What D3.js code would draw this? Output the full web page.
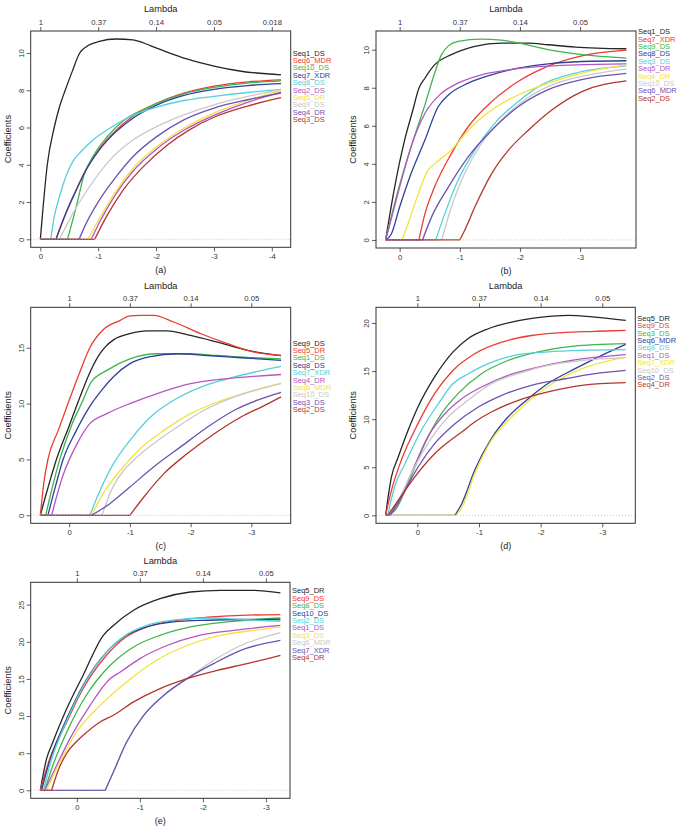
<!DOCTYPE html>
<html>
<head>
<meta charset="utf-8">
<script src="https://d3js.org/d3.v7.min.js"></script>
<style>
  body { margin: 0; background: #fff; }
  svg text { font-family: "Liberation Sans", Arial, sans-serif; }
</style>
</head>
<body>
<svg id="chart" width="684" height="831"></svg>
<script>
// colours used by every panel, in legend order
var palette = ["#262626", "#ec3b30", "#3db54b", "#2e4099", "#55d0d8", "#b455c4", "#f3e23c", "#c9c9c9", "#6b52b3", "#b3352c"];

// log(lambda) positions of the ticks and the lambda values printed on top
var logLambdaTicks = [0, -1, -2, -3, -4];
var lambdaTickLabels = ["1", "0.37", "0.14", "0.05", "0.018"];

// ---- panel (a)
var aNames = ["Seq1_DS", "Seq6_MDR", "Seq10_DS", "Seq7_XDR", "Seq8_DS", "Seq2_DS", "Seq5_DR", "Seq9_DS", "Seq4_DR", "Seq3_DS"];
var aYTicks = [0, 2, 4, 6, 8, 10];
var aPaths = [
  [[0,0],[-0.05,1.8],[-0.12,4.0],[-0.24,6.0],[-0.33,7.1],[-0.43,8.0],[-0.55,9.0],[-0.68,10.0],[-0.8,10.35],[-1.02,10.62],[-1.31,10.75],[-1.6,10.7],[-1.9,10.4],[-2.19,10.05],[-2.53,9.68],[-3.0,9.3],[-3.47,9.02],[-4.16,8.83]],
  [[0,0],[-0.27,0],[-0.44,1.4],[-0.62,2.66],[-0.79,3.74],[-1.02,4.85],[-1.31,5.85],[-1.6,6.6],[-2.01,7.3],[-2.48,7.85],[-3.0,8.22],[-3.58,8.45],[-4.16,8.56]],
  [[0,0],[-0.47,0],[-0.62,1.74],[-0.76,3.5],[-0.91,4.45],[-1.14,5.45],[-1.43,6.35],[-1.78,6.98],[-2.01,7.3],[-2.48,7.8],[-3.0,8.15],[-3.58,8.38],[-4.16,8.5]],
  [[0,0],[-0.27,0],[-0.44,1.38],[-0.62,2.64],[-0.79,3.72],[-1.02,4.8],[-1.31,5.78],[-1.6,6.5],[-2.01,7.2],[-2.48,7.72],[-3.0,8.05],[-3.58,8.25],[-4.16,8.35]],
  [[0,0],[-0.18,0],[-0.24,1.2],[-0.33,2.28],[-0.44,3.36],[-0.56,4.17],[-0.7,4.7],[-0.91,5.33],[-1.2,5.96],[-1.6,6.65],[-2.01,7.1],[-2.48,7.45],[-3.0,7.67],[-3.58,7.88],[-4.16,8.05]],
  [[0,0],[-0.88,0],[-1.02,0.9],[-1.31,2.45],[-1.6,3.65],[-2.01,4.85],[-2.48,5.85],[-3.0,6.65],[-3.58,7.35],[-4.16,7.9]],
  [[0,0],[-0.82,0],[-1.02,1.1],[-1.31,2.6],[-1.6,3.8],[-2.01,4.97],[-2.48,5.96],[-3.0,6.77],[-3.58,7.45],[-4.16,8.0]],
  [[0,0],[-0.33,0],[-0.56,1.38],[-0.85,2.82],[-1.2,4.25],[-1.6,5.33],[-2.01,6.05],[-2.48,6.68],[-3.0,7.22],[-3.58,7.67],[-4.16,8.03]],
  [[0,0],[-0.67,0],[-0.79,0.84],[-1.02,2.1],[-1.31,3.36],[-1.6,4.43],[-2.01,5.51],[-2.48,6.41],[-3.0,7.04],[-3.58,7.49],[-4.16,7.85]],
  [[0,0],[-0.94,0],[-1.14,1.2],[-1.43,2.64],[-1.78,3.9],[-2.19,5.05],[-2.59,5.9],[-3.0,6.55],[-3.58,7.15],[-4.16,7.6]]
];

// ---- panel (b)
var bNames = ["Seq1_DS", "Seq7_XDR", "Seq9_DS", "Seq8_DS", "Seq3_DS", "Seq5_DR", "Seq4_DR", "Seq10_DS", "Seq6_MDR", "Seq2_DS"];
var bYTicks = [0, 2, 4, 6, 8, 10];
var bPaths = [
  [[0.233,0],[0.083,2.78],[-0.083,5.25],[-0.22,6.83],[-0.32,7.97],[-0.42,8.5],[-0.58,9.2],[-0.86,9.74],[-1.25,10.18],[-1.69,10.35],[-2.14,10.35],[-2.47,10.26],[-2.92,10.14],[-3.77,10.05]],
  [[0.233,0],[-0.32,0],[-0.42,1.37],[-0.58,2.78],[-0.86,4.54],[-1.14,5.95],[-1.53,7.27],[-1.97,8.33],[-2.47,9.14],[-3.03,9.68],[-3.77,9.98]],
  [[0.233,0],[0.0,2.9],[-0.2,5.0],[-0.42,7.1],[-0.58,8.75],[-0.69,9.7],[-0.81,10.2],[-0.97,10.44],[-1.36,10.56],[-1.69,10.5],[-2.03,10.32],[-2.47,10.0],[-3.03,9.74],[-3.77,9.56]],
  [[0.233,0],[0.14,0.3],[0,1.73],[-0.19,3.49],[-0.42,5.25],[-0.64,7.0],[-0.81,7.62],[-1.14,8.24],[-1.53,8.68],[-1.97,9.03],[-2.47,9.26],[-3.03,9.38],[-3.77,9.42]],
  [[0.233,0],[-0.6,0],[-0.75,1.37],[-0.97,3.13],[-1.25,4.72],[-1.58,6.13],[-1.97,7.27],[-2.36,8.15],[-2.92,8.77],[-3.77,9.15]],
  [[0.233,0],[0,2.78],[-0.19,4.9],[-0.42,6.65],[-0.69,7.7],[-0.97,8.24],[-1.36,8.68],[-1.81,8.94],[-2.36,9.12],[-2.92,9.2],[-3.77,9.25]],
  [[0.233,0],[-0.04,0],[-0.14,0.85],[-0.31,2.43],[-0.47,3.66],[-0.58,4.0],[-0.86,4.72],[-1.14,5.77],[-1.53,6.83],[-1.97,7.62],[-2.47,8.24],[-3.03,8.77],[-3.77,9.2]],
  [[0.233,0],[-0.7,0],[-0.86,1.73],[-1.08,3.49],[-1.36,5.07],[-1.69,6.3],[-2.08,7.36],[-2.53,8.15],[-3.03,8.6],[-3.77,8.98]],
  [[0.233,0],[-0.38,0],[-0.53,1.2],[-0.81,2.78],[-1.14,4.37],[-1.53,5.77],[-1.97,7.0],[-2.47,7.9],[-3.03,8.43],[-3.77,8.75]],
  [[0.233,0],[-1.0,0],[-1.08,0.5],[-1.25,1.73],[-1.53,3.49],[-1.81,4.72],[-2.14,5.77],[-2.53,6.83],[-3.03,7.8],[-3.77,8.36]]
];

// ---- panel (c)
var cNames = ["Seq9_DS", "Seq5_DR", "Seq1_DS", "Seq8_DS", "Seq7_XDR", "Seq4_DR", "Seq6_MDR", "Seq10_DS", "Seq3_DS", "Seq2_DS"];
var cYTicks = [0, 5, 10, 15];
var cPaths = [
  [[0.475,0],[0.4,1.5],[0.3,3.4],[0.21,5.0],[0.0,8.0],[-0.2,10.9],[-0.35,12.9],[-0.51,14.5],[-0.6,15.1],[-0.73,15.7],[-1.0,16.25],[-1.28,16.5],[-1.61,16.5],[-2.0,16.1],[-2.44,15.5],[-2.94,14.76],[-3.49,14.3]],
  [[0.475,0],[0.42,2.8],[0.35,5.0],[0.18,7.6],[0.02,10.0],[-0.16,12.6],[-0.34,15.0],[-0.56,16.6],[-0.84,17.45],[-1.0,17.85],[-1.17,17.9],[-1.39,17.9],[-1.72,17.3],[-2.17,16.25],[-2.61,15.36],[-3.05,14.6],[-3.49,14.3]],
  [[0.475,0],[0.387,0],[0.3,2.0],[0.155,5.0],[-0.05,8.2],[-0.22,10.2],[-0.36,11.9],[-0.62,12.97],[-1.0,14.0],[-1.45,14.46],[-1.94,14.46],[-2.44,14.3],[-3.05,14.1],[-3.49,14.0]],
  [[0.475,0],[0.35,0],[0.22,2.7],[0.1,5.0],[-0.1,7.4],[-0.37,10.0],[-0.55,11.3],[-0.73,12.4],[-1.0,13.57],[-1.34,14.2],[-1.78,14.46],[-2.28,14.3],[-2.83,14.1],[-3.49,13.87]],
  [[0.475,0],[-0.34,0],[-0.51,2.24],[-0.73,4.62],[-1.0,6.7],[-1.34,8.8],[-1.72,10.3],[-2.17,11.48],[-2.72,12.38],[-3.49,13.33]],
  [[0.475,0],[0.29,0],[0.1,3.6],[-0.12,6.3],[-0.34,8.2],[-0.62,9.1],[-1.0,10.0],[-1.45,10.9],[-2.0,11.78],[-2.61,12.23],[-3.49,12.6]],
  [[0.475,0],[-0.37,0],[-0.56,1.94],[-0.84,4.0],[-1.17,5.96],[-1.56,7.6],[-2.0,9.1],[-2.44,10.14],[-2.94,11.0],[-3.49,11.84]],
  [[0.475,0],[-0.54,0],[-0.67,1.94],[-0.9,4.03],[-1.06,4.92],[-1.39,6.41],[-1.78,7.9],[-2.22,9.4],[-2.72,10.6],[-3.49,11.78]],
  [[0.475,0],[-0.37,0],[-0.67,1.04],[-1.0,2.53],[-1.39,4.32],[-1.83,6.1],[-2.28,7.9],[-2.72,9.4],[-3.1,10.3],[-3.49,11.0]],
  [[0.475,0],[-1.0,0],[-1.23,1.64],[-1.56,3.73],[-1.94,5.5],[-2.39,7.3],[-2.83,8.8],[-3.22,9.84],[-3.49,10.6]]
];

// ---- panel (d)
var dNames = ["Seq5_DR", "Seq9_DS", "Seq3_DS", "Seq6_MDR", "Seq8_DS", "Seq1_DS", "Seq7_XDR", "Seq10_DS", "Seq2_DS", "Seq4_DR"];
var dYTicks = [0, 5, 10, 15, 20];
var dPaths = [
  [[0.515,0],[0.42,3.99],[0.31,6.07],[0.15,8.84],[-0.01,11.27],[-0.28,14.4],[-0.58,17.0],[-0.82,18.37],[-1.15,19.4],[-1.53,20.1],[-2.02,20.62],[-2.45,20.8],[-2.88,20.62],[-3.38,20.28]],
  [[0.515,0],[0.42,2.6],[0.26,5.72],[-0.01,9.53],[-0.28,12.65],[-0.58,15.08],[-0.93,16.8],[-1.37,18.0],[-1.85,18.7],[-2.34,19.0],[-2.88,19.13],[-3.38,19.24]],
  [[0.515,0],[0.45,0],[0.34,0.7],[0.15,3.3],[-0.12,7.45],[-0.39,10.57],[-0.66,12.65],[-1.04,14.73],[-1.47,16.1],[-1.96,17.0],[-2.5,17.57],[-3.38,17.85]],
  [[0.515,0],[-0.61,0],[-0.72,1.2],[-0.93,4.68],[-1.2,7.97],[-1.47,10.22],[-1.8,12.13],[-2.12,13.7],[-2.56,15.25],[-2.99,16.64],[-3.38,17.78]],
  [[0.515,0],[0.48,0],[0.37,2.95],[0.2,5.37],[-0.065,8.84],[-0.34,11.6],[-0.58,13.7],[-0.82,14.7],[-1.15,15.77],[-1.58,16.64],[-2.12,17.0],[-2.67,17.16],[-3.38,17.23]],
  [[0.515,0],[0.45,0],[0.31,1.2],[0.1,4.33],[-0.17,8.15],[-0.5,10.92],[-0.72,12.13],[-1.04,13.34],[-1.47,14.56],[-1.96,15.42],[-2.5,16.1],[-3.38,16.7]],
  [[0.515,0],[-0.63,0],[-0.74,1.04],[-0.93,4.33],[-1.2,7.8],[-1.53,10.22],[-1.85,12.13],[-2.23,13.87],[-2.67,15.25],[-3.38,16.46]],
  [[0.515,0],[0.48,0],[0.31,1.56],[0.1,4.33],[-0.17,7.45],[-0.5,10.22],[-0.82,11.96],[-1.2,13.7],[-1.64,14.73],[-2.12,15.6],[-2.67,16.1],[-3.38,16.4]],
  [[0.515,0],[0.45,0],[0.26,1.9],[-0.01,5.0],[-0.28,7.45],[-0.61,9.53],[-0.99,11.27],[-1.37,12.48],[-1.85,13.52],[-2.4,14.2],[-2.88,14.73],[-3.38,15.08]],
  [[0.515,0],[0.48,0],[0.31,1.56],[0.04,4.0],[-0.28,6.4],[-0.61,8.15],[-0.72,8.67],[-0.93,9.7],[-1.2,10.74],[-1.64,11.96],[-2.12,12.83],[-2.67,13.52],[-3.38,13.8]]
];

// ---- panel (e)
var eNames = ["Seq5_DR", "Seq9_DS", "Seq8_DS", "Seq10_DS", "Seq2_DS", "Seq1_DS", "Seq3_DS", "Seq6_MDR", "Seq7_XDR", "Seq4_DR"];
var eYTicks = [0, 5, 10, 15, 20, 25];
var ePaths = [
  [[0.58,0],[0.48,4.26],[0.38,6.5],[0.16,11.0],[-0.1,15.5],[-0.42,20.87],[-0.58,22.2],[-0.9,24.24],[-1.32,25.8],[-1.8,26.7],[-2.28,26.93],[-2.81,26.93],[-3.23,26.57]],
  [[0.58,0],[0.43,4.26],[0.16,9.2],[-0.1,13.7],[-0.47,18.18],[-0.79,20.7],[-1.11,22.0],[-1.53,22.8],[-2.07,23.3],[-2.6,23.56],[-3.23,23.65]],
  [[0.58,0],[0.51,0],[0.38,3.37],[0.16,7.85],[-0.15,12.8],[-0.53,16.83],[-0.9,19.3],[-1.32,20.87],[-1.8,22.0],[-2.38,22.67],[-3.23,23.2]],
  [[0.58,0],[0.56,0],[0.43,4.0],[0.16,9.65],[-0.1,14.14],[-0.47,18.6],[-0.79,20.87],[-1.11,22.0],[-1.53,22.67],[-2.07,22.9],[-2.6,23.0],[-3.23,23.0]],
  [[0.58,0],[0.53,0],[0.42,3.6],[0.16,9.4],[-0.1,14.0],[-0.47,18.6],[-0.79,20.96],[-1.11,22.2],[-1.53,22.9],[-2.07,23.2],[-2.6,23.0],[-3.23,22.75]],
  [[0.58,0],[0.51,0],[0.32,3.37],[0.11,6.96],[-0.21,11.44],[-0.53,15.04],[-0.69,15.93],[-1.0,17.73],[-1.43,19.5],[-1.91,20.8],[-2.49,21.54],[-3.23,22.2]],
  [[0.58,0],[0.48,0],[0.27,3.8],[0.005,7.85],[-0.37,11.44],[-0.79,14.59],[-1.22,17.28],[-1.75,19.5],[-2.28,20.87],[-2.81,21.54],[-3.23,22.0]],
  [[0.58,0],[-0.45,0],[-0.58,2.47],[-0.79,6.5],[-1.06,10.1],[-1.38,12.8],[-1.75,15.04],[-2.17,17.5],[-2.6,19.5],[-3.23,21.23]],
  [[0.58,0],[-0.45,0],[-0.58,2.47],[-0.79,6.5],[-1.06,10.1],[-1.38,12.8],[-1.75,15.04],[-2.17,17.06],[-2.6,18.85],[-3.23,20.2]],
  [[0.58,0],[0.4,0],[0.3,2.6],[0.16,5.0],[0.0,6.6],[-0.1,7.4],[-0.37,9.2],[-0.58,10.1],[-0.9,11.9],[-1.32,13.7],[-1.75,15.04],[-2.23,16.16],[-2.7,17.06],[-3.23,18.18]]
];

// plot boxes on the page: [left, top, right, bottom]
var panels = [
  { tag: "(a)", names: aNames, paths: aPaths, yTicks: aYTicks, box: [30.7, 31, 290.7, 247.3] },
  { tag: "(b)", names: bNames, paths: bPaths, yTicks: bYTicks, box: [376, 31, 636, 248] },
  { tag: "(c)", names: cNames, paths: cPaths, yTicks: cYTicks, box: [30.7, 307.3, 290.7, 523.3] },
  { tag: "(d)", names: dNames, paths: dPaths, yTicks: dYTicks, box: [376, 307.3, 635.3, 523.3] },
  { tag: "(e)", names: eNames, paths: ePaths, yTicks: eYTicks, box: [30.7, 582.3, 290, 798.3] }
];

var svg = d3.select("#chart");
svg.append("rect").attr("width", 684).attr("height", 831).attr("fill", "#fff");

function drawPanel(p) {
  var l = p.box[0], t = p.box[1], r = p.box[2], b = p.box[3];
  var all = p.paths.flat();
  var xe = d3.extent(all, function (d) { return d[0]; });
  var ye = d3.extent(all, function (d) { return d[1]; });
  // R style 4% padding
  var xpad = (xe[1] - xe[0]) * 0.04, ypad = (ye[1] - ye[0]) * 0.04;
  var x = d3.scaleLinear().domain([xe[1] + xpad, xe[0] - xpad]).range([l, r]);
  var y = d3.scaleLinear().domain([ye[0] - ypad, ye[1] + ypad]).range([b, t]);

  var g = svg.append("g");
  var ticks = logLambdaTicks.filter(function (v) { return v <= x.domain()[0] && v >= x.domain()[1]; });

  // bottom axis
  var bottom = g.append("g").attr("transform", "translate(0," + b + ")")
    .call(d3.axisBottom(x).tickValues(ticks).tickSize(4).tickPadding(2.5)
      .tickFormat(function (d) { return String(d); }));
  // top axis, labelled with lambda itself
  var top = g.append("g").attr("transform", "translate(0," + t + ")")
    .call(d3.axisTop(x).tickValues(ticks).tickSize(4).tickPadding(2)
      .tickFormat(function (d) { return lambdaTickLabels[logLambdaTicks.indexOf(d)]; }));
  // left axis with rotated labels
  var left = g.append("g").attr("transform", "translate(" + l + ",0)")
    .call(d3.axisLeft(y).tickValues(p.yTicks).tickSize(4).tickFormat(function (d) { return String(d); }));
  left.selectAll(".tick text")
    .attr("transform", "rotate(-90)")
    .attr("x", 0).attr("y", -7).attr("dy", 0)
    .attr("text-anchor", "middle");

  [bottom, top, left].forEach(function (ax) {
    ax.select(".domain").remove();
    ax.selectAll(".tick line").attr("stroke", "#333").attr("stroke-width", 0.8);
    ax.selectAll(".tick text").attr("fill", "#333").style("font-size", "7.7px")
      .style("font-family", "'Liberation Sans', Arial, sans-serif");
  });

  // coefficient paths
  var lin = d3.line().x(function (d) { return x(d[0]); }).y(function (d) { return y(d[1]); });
  var smooth = d3.line().x(function (d) { return x(d[0]); }).y(function (d) { return y(d[1]); })
    .curve(d3.curveMonotoneX);

  p.paths.forEach(function (pts, i) {
    var k = 0;
    while (k + 1 < pts.length && pts[k + 1][1] === 0) k++;
    if (k > 0) {
      g.append("path").attr("d", lin(pts.slice(0, k + 1)))
        .attr("fill", "none").attr("stroke", palette[i]).attr("stroke-width", 1.2);
    }
    g.append("path").attr("d", smooth(pts.slice(k)))
      .attr("fill", "none").attr("stroke", palette[i]).attr("stroke-width", 1.3)
      .attr("stroke-linejoin", "round");
  });

  // zero reference
  g.append("line").attr("x1", l).attr("x2", r).attr("y1", y(0)).attr("y2", y(0))
    .attr("stroke", "#b8b8b8").attr("stroke-width", 0.8).attr("stroke-dasharray", "1,2");

  // box
  g.append("rect").attr("x", l).attr("y", t).attr("width", r - l).attr("height", b - t)
    .attr("fill", "none").attr("stroke", "#333").attr("stroke-width", 1);

  // titles
  g.append("text").attr("x", (l + r) / 2).attr("y", t - 22).attr("dy", "0.35em")
    .attr("text-anchor", "middle").attr("fill", "#222").style("font-size", "9.3px").text("Lambda");
  g.append("text").attr("transform", "translate(" + (l - 23) + "," + ((t + b) / 2) + ") rotate(-90)")
    .attr("dy", "0.35em").attr("text-anchor", "middle").attr("fill", "#222")
    .style("font-size", "9.3px").text("Coefficients");
  g.append("text").attr("x", (l + r) / 2).attr("y", b + 23).attr("dy", "0.35em")
    .attr("text-anchor", "middle").attr("fill", "#222").style("font-size", "9px").text(p.tag);

  // labels stacked beside the line ends
  var ends = p.paths.map(function (pts) { return y(pts[pts.length - 1][1]); });
  var mid = (d3.min(ends) + d3.max(ends)) / 2;
  var step = 7.4;
  var y0 = mid - (p.names.length - 1) / 2 * step;
  g.selectAll(".lab").data(p.names).enter().append("text")
    .attr("x", r + 2).attr("y", function (d, i) { return y0 + i * step; })
    .attr("dy", "0.35em").attr("fill", function (d, i) { return palette[i]; })
    .style("font-size", "7.5px").text(function (d) { return d; });
}

panels.forEach(drawPanel);
</script>
</body>
</html>
